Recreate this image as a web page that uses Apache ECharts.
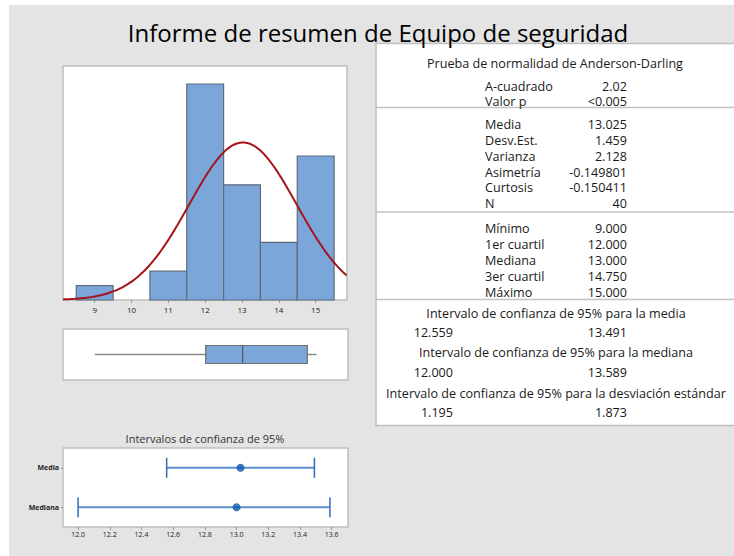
<!DOCTYPE html>
<html>
<head>
<meta charset="utf-8">
<script src="https://cdn.jsdelivr.net/npm/echarts@6/dist/echarts.min.js"></script>
<style>
  html, body { margin: 0; padding: 0; background: #ffffff; }
  #chart { width: 734px; height: 556px; }
</style>
</head>
<body>
<div id="chart"></div>
<script>
// Histogram of the sample (bin centres and counts, bin width 1)
const binCenters = [9, 10, 11, 12, 13, 14, 15];
const binCounts = [1, 0, 2, 15, 8, 4, 10];
const histTicks = [9, 10, 11, 12, 13, 14, 15];

// Summary statistics
const sampleMean = 13.025;
const sampleSd = 1.459;
const sampleN = 40;

// Five-number summary for the box plot: min, Q1, median, Q3, max
const boxStats = [9.0, 12.0, 13.0, 14.75, 15.0];

// 95% confidence intervals drawn in the lower plot
const ciRows = ['Media', 'Mediana'];
const ciPoints = [13.025, 13.0];
const ciLows = [12.559, 12.0];
const ciHighs = [13.491, 13.589];
const ciTicks = [12.0, 12.2, 12.4, 12.6, 12.8, 13.0, 13.2, 13.4, 13.6];

// Text for the statistics table
const adLabels = ['A-cuadrado', 'Valor p'];
const adValues = ['2.02', '<0.005'];
const descLabels = ['Media', 'Desv.Est.', 'Varianza', 'Asimetría', 'Curtosis', 'N'];
const descValues = ['13.025', '1.459', '2.128', '-0.149801', '-0.150411', '40'];
const quartLabels = ['Mínimo', '1er cuartil', 'Mediana', '3er cuartil', 'Máximo'];
const quartValues = ['9.000', '12.000', '13.000', '14.750', '15.000'];
const intervalTitles = [
  'Intervalo de confianza de 95% para la media',
  'Intervalo de confianza de 95% para la mediana',
  'Intervalo de confianza de 95% para la desviación estándar'
];
const intervalLows = ['12.559', '12.000', '1.195'];
const intervalHighs = ['13.491', '13.589', '1.873'];

const FONT = '"Open Sans", "Noto Sans", sans-serif';
const HIST_MIN = 8.14, HIST_MAX = 15.85;
const TABLE_FONT = 12.6;

// Fitted normal curve scaled to the histogram counts
const curve = [];
for (let x = HIST_MIN; x <= HIST_MAX + 1e-9; x += 0.05) {
  const z = (x - sampleMean) / sampleSd;
  curve.push([x, sampleN * Math.exp(-0.5 * z * z) / (sampleSd * Math.sqrt(2 * Math.PI))]);
}

const chart = echarts.init(document.getElementById('chart'), null, { renderer: 'svg' });

function txt(text, x, y, align, size, color) {
  return {
    type: 'text', silent: true, z: 10,
    style: {
      text: text, x: x, y: y, align: align || 'left', verticalAlign: 'middle',
      font: (size || TABLE_FONT) + 'px ' + FONT, fill: color || '#1a1a1a'
    }
  };
}

// Statistics table contents
const tableEls = [];
tableEls.push(txt('Prueba de normalidad de Anderson-Darling', 555, 63, 'center'));
const adY = [86, 101.5];
adLabels.forEach((l, i) => {
  tableEls.push(txt(l, 485, adY[i], 'left'));
  tableEls.push(txt(adValues[i], 627, adY[i], 'right'));
});
const descY = [124, 140, 156, 172, 187.5, 203.5];
descLabels.forEach((l, i) => {
  tableEls.push(txt(l, 485, descY[i], 'left'));
  tableEls.push(txt(descValues[i], 627, descY[i], 'right'));
});
const quartY = [228, 244, 260, 276, 292];
quartLabels.forEach((l, i) => {
  tableEls.push(txt(l, 485, quartY[i], 'left'));
  tableEls.push(txt(quartValues[i], 627, quartY[i], 'right'));
});
const intTitleY = [313, 352.5, 393.5];
const intValY = [332, 372, 412];
intervalTitles.forEach((t, i) => {
  tableEls.push(txt(t, 556, intTitleY[i], 'center'));
  tableEls.push(txt(intervalLows[i], 453, intValY[i], 'right'));
  tableEls.push(txt(intervalHighs[i], 627, intValY[i], 'right'));
});
[107.5, 212, 299.5].forEach(y => {
  tableEls.push({
    type: 'line', silent: true, z: 9,
    shape: { x1: 376, y1: y, x2: 734, y2: y },
    style: { stroke: '#c3c3c3', lineWidth: 1.5 }
  });
});

const frameStyle = { show: true, backgroundColor: '#ffffff', borderColor: '#bfbfbf', borderWidth: 1.5 };

const option = {
  backgroundColor: '#ffffff',
  animation: false,
  graphic: [
    { type: 'rect', silent: true, z: -10, shape: { x: 9, y: 5, width: 725, height: 551 }, style: { fill: '#e4e4e4' } },
    { type: 'rect', silent: true, z: 1, shape: { x: 376, y: 43.5, width: 360, height: 382 },
      style: { fill: '#ffffff', stroke: '#bfbfbf', lineWidth: 1.5 } },
    txt('Informe de resumen de Equipo de seguridad', 378, 32, 'center', 24, '#000000'),
    txt('Intervalos de confianza de 95%', 205, 438, 'center', 11, '#333333')
  ].concat(tableEls),
  grid: [
    Object.assign({ left: 63, top: 66, width: 284, height: 234 }, frameStyle),
    Object.assign({ left: 63, top: 329, width: 285, height: 51 }, frameStyle),
    Object.assign({ left: 63, top: 448, width: 285, height: 79 }, frameStyle)
  ],
  xAxis: [
    {
      gridIndex: 0, type: 'value', min: HIST_MIN, max: HIST_MAX,
      splitLine: { show: false }, axisLine: { show: false },
      axisTick: { show: true, length: 3, lineStyle: { color: '#9a9a9a' }, customValues: histTicks },
      axisLabel: { fontSize: 8, color: '#222', margin: 5, fontFamily: FONT, customValues: histTicks }
    },
    { gridIndex: 1, type: 'value', min: HIST_MIN, max: HIST_MAX, show: false, splitLine: { show: false } },
    {
      gridIndex: 2, type: 'value', min: 11.905, max: 13.703,
      splitLine: { show: false }, axisLine: { show: false },
      axisTick: { show: true, length: 3, lineStyle: { color: '#9a9a9a' }, customValues: ciTicks },
      axisLabel: { fontSize: 7, color: '#222', margin: 4, fontFamily: FONT, customValues: ciTicks,
        formatter: v => v.toFixed(1) }
    }
  ],
  yAxis: [
    { gridIndex: 0, type: 'value', min: 0, max: 16.25, show: false, splitLine: { show: false } },
    { gridIndex: 1, type: 'category', data: ['box'], show: false },
    {
      gridIndex: 2, type: 'category', data: ciRows.slice().reverse(),
      axisLine: { show: false },
      axisTick: { show: true, length: 2, alignWithLabel: true, lineStyle: { color: '#9a9a9a' } },
      axisLabel: { fontSize: 7, color: '#222', margin: 4, fontFamily: FONT, fontWeight: 'bold' }
    }
  ],
  series: [
    {
      // histogram bars, one unit wide each
      type: 'custom', xAxisIndex: 0, yAxisIndex: 0, z: 2,
      data: binCenters.map((c, i) => [c, binCounts[i]]),
      renderItem: (params, api) => {
        const c = api.value(0), n = api.value(1);
        if (!n) return null;
        const p0 = api.coord([c - 0.5, n]);
        const p1 = api.coord([c + 0.5, 0]);
        return {
          type: 'rect',
          shape: { x: p0[0], y: p0[1], width: p1[0] - p0[0], height: p1[1] - p0[1] },
          style: { fill: '#7ba6d9', stroke: '#5f6b7c', lineWidth: 1.2 }
        };
      }
    },
    {
      type: 'line', xAxisIndex: 0, yAxisIndex: 0, z: 3,
      data: curve, showSymbol: false, smooth: true,
      lineStyle: { color: '#a3161c', width: 2 }
    },
    {
      // horizontal box plot
      type: 'custom', xAxisIndex: 1, yAxisIndex: 1, z: 2,
      data: [[0].concat(boxStats)],
      renderItem: (params, api) => {
        const yc = api.coord([boxStats[0], 0])[1];
        const h = 18;
        const pMin = api.coord([api.value(1), 0])[0];
        const pQ1 = api.coord([api.value(2), 0])[0];
        const pMed = api.coord([api.value(3), 0])[0];
        const pQ3 = api.coord([api.value(4), 0])[0];
        const pMax = api.coord([api.value(5), 0])[0];
        const lineStyle = { stroke: '#8a8a8a', lineWidth: 1.5 };
        return {
          type: 'group',
          children: [
            { type: 'line', shape: { x1: pMin, y1: yc, x2: pQ1, y2: yc }, style: lineStyle },
            { type: 'line', shape: { x1: pQ3, y1: yc, x2: pMax, y2: yc }, style: lineStyle },
            { type: 'rect', shape: { x: pQ1, y: yc - h / 2, width: pQ3 - pQ1, height: h },
              style: { fill: '#7ba6d9', stroke: '#707070', lineWidth: 1.2 } },
            { type: 'line', shape: { x1: pMed, y1: yc - h / 2, x2: pMed, y2: yc + h / 2 },
              style: { stroke: '#555555', lineWidth: 1.2 } }
          ]
        };
      }
    },
    {
      // confidence interval bars
      type: 'custom', xAxisIndex: 2, yAxisIndex: 2, z: 2,
      data: ciRows.map((r, i) => [r, ciLows[i], ciHighs[i]]),
      encode: { y: 0, x: [1, 2] },
      renderItem: (params, api) => {
        const cat = api.value(0);
        const lo = api.coord([api.value(1), cat]);
        const hi = api.coord([api.value(2), cat]);
        const cap = 10;
        return {
          type: 'group',
          children: [
            { type: 'line', shape: { x1: lo[0], y1: lo[1], x2: hi[0], y2: hi[1] },
              style: { stroke: '#5b8fcf', lineWidth: 2 } },
            { type: 'line', shape: { x1: lo[0], y1: lo[1] - cap, x2: lo[0], y2: lo[1] + cap },
              style: { stroke: '#2f6db8', lineWidth: 1.5 } },
            { type: 'line', shape: { x1: hi[0], y1: hi[1] - cap, x2: hi[0], y2: hi[1] + cap },
              style: { stroke: '#2f6db8', lineWidth: 1.5 } }
          ]
        };
      }
    },
    {
      type: 'scatter', xAxisIndex: 2, yAxisIndex: 2, z: 3,
      data: ciRows.map((r, i) => [ciPoints[i], r]),
      symbol: 'circle', symbolSize: 8,
      itemStyle: { color: '#0a58aa' }
    }
  ]
};

chart.setOption(option);
</script>
</body>
</html>
